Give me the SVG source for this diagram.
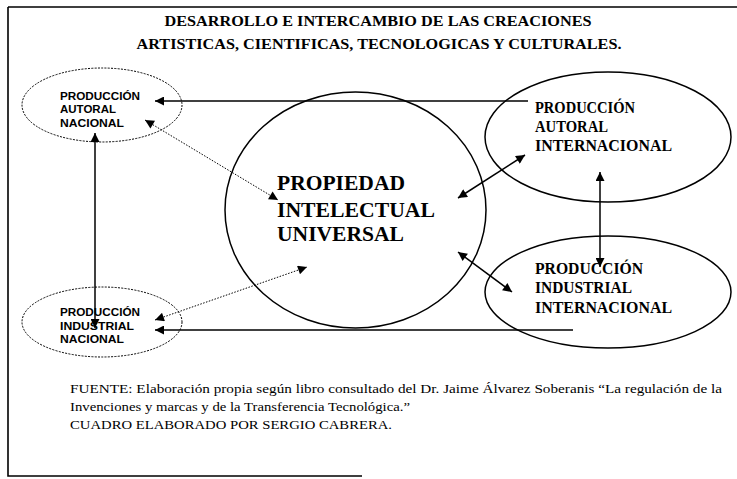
<svg xmlns="http://www.w3.org/2000/svg" width="737" height="479" viewBox="0 0 737 479">
<style>
.frame{stroke:#000;stroke-width:1.6;fill:none}
.dotell{fill:none;stroke:#000;stroke-width:1;stroke-dasharray:2 1.3}
.ell{fill:none;stroke:#000;stroke-width:1.5}
.ln{stroke:#000;stroke-width:1.5;fill:none}
.dl{stroke:#000;stroke-width:1;stroke-dasharray:1.5 1.5;fill:none}
.title{font-family:"Liberation Serif",serif;font-size:15px;font-weight:bold;text-anchor:middle}
.small{font-family:"Liberation Sans",sans-serif;font-size:10px;font-weight:bold}
.mid{font-family:"Liberation Serif",serif;font-size:16px;font-weight:bold}
.big{font-family:"Liberation Serif",serif;font-size:22px;font-weight:bold}
.foot{font-family:"Liberation Serif",serif;font-size:13.5px}
</style>
<defs>
<marker id="ah" viewBox="0 0 10 10" refX="10" refY="5" markerWidth="10" markerHeight="9" markerUnits="userSpaceOnUse" orient="auto-start-reverse">
<path d="M0,0 L10,5 L0,10 z" fill="#000"/>
</marker>
</defs>
<rect width="737" height="479" fill="#fff"/>
<g id="frame">
<path class="frame" d="M8,7 H737 M8,7 V476 H362"/>
</g>
<g id="title">
<text class="title" x="378" y="26" textLength="427" lengthAdjust="spacingAndGlyphs">DESARROLLO E INTERCAMBIO DE LAS CREACIONES</text>
<text class="title" x="379" y="49" textLength="485" lengthAdjust="spacingAndGlyphs">ARTISTICAS, CIENTIFICAS, TECNOLOGICAS Y CULTURALES.</text>
</g>
<g id="connectors">
<line class="ln" x1="528" y1="101" x2="155" y2="101" marker-end="url(#ah)"/>
<line class="ln" x1="573" y1="330" x2="155" y2="330" marker-end="url(#ah)"/>
<line class="ln" x1="95" y1="133" x2="95" y2="328" marker-start="url(#ah)" marker-end="url(#ah)"/>
<line class="dl" x1="145" y1="120" x2="278" y2="200" marker-start="url(#ah)" marker-end="url(#ah)"/>
<line class="dl" x1="155" y1="320" x2="307" y2="267" marker-start="url(#ah)" marker-end="url(#ah)"/>
<line class="ln" x1="458" y1="198" x2="525" y2="155" marker-start="url(#ah)" marker-end="url(#ah)"/>
<line class="ln" x1="458" y1="252" x2="512" y2="292" marker-start="url(#ah)" marker-end="url(#ah)"/>
<line class="ln" x1="600" y1="172" x2="600" y2="267" marker-start="url(#ah)" marker-end="url(#ah)"/>
</g>
<g id="autoral-nacional">
<ellipse class="dotell" cx="102" cy="105" rx="80" ry="37"/>
<text class="small" x="60" y="99.5" textLength="80" lengthAdjust="spacingAndGlyphs">PRODUCCIÓN</text>
<text class="small" x="60" y="113" textLength="56" lengthAdjust="spacingAndGlyphs">AUTORAL</text>
<text class="small" x="60" y="127" textLength="64" lengthAdjust="spacingAndGlyphs">NACIONAL</text>
</g>
<g id="industrial-nacional">
<ellipse class="dotell" cx="102" cy="322" rx="80" ry="35"/>
<text class="small" x="60" y="316" textLength="80" lengthAdjust="spacingAndGlyphs">PRODUCCIÓN</text>
<text class="small" x="60" y="329.5" textLength="74" lengthAdjust="spacingAndGlyphs">INDUSTRIAL</text>
<text class="small" x="60" y="343" textLength="64" lengthAdjust="spacingAndGlyphs">NACIONAL</text>
</g>
<g id="propiedad">
<ellipse class="ell" cx="355.5" cy="210" rx="130.5" ry="118"/>
<text class="big" x="277" y="190" textLength="128" lengthAdjust="spacingAndGlyphs">PROPIEDAD</text>
<text class="big" x="277" y="217" textLength="158" lengthAdjust="spacingAndGlyphs">INTELECTUAL</text>
<text class="big" x="277" y="241" textLength="127" lengthAdjust="spacingAndGlyphs">UNIVERSAL</text>
</g>
<g id="autoral-internacional">
<ellipse class="ell" cx="608" cy="137" rx="123" ry="65"/>
<text class="mid" x="535" y="113" textLength="100" lengthAdjust="spacingAndGlyphs">PRODUCCIÓN</text>
<text class="mid" x="535" y="132" textLength="73" lengthAdjust="spacingAndGlyphs">AUTORAL</text>
<text class="mid" x="535" y="151" textLength="137" lengthAdjust="spacingAndGlyphs">INTERNACIONAL</text>
</g>
<g id="industrial-internacional">
<ellipse class="ell" cx="608" cy="292" rx="123" ry="56"/>
<text class="mid" x="535" y="274" textLength="108" lengthAdjust="spacingAndGlyphs">PRODUCCIÓN</text>
<text class="mid" x="535" y="293" textLength="97" lengthAdjust="spacingAndGlyphs">INDUSTRIAL</text>
<text class="mid" x="535" y="313" textLength="137" lengthAdjust="spacingAndGlyphs">INTERNACIONAL</text>
</g>
<g id="footer">
<text class="foot" x="70" y="393" textLength="652" lengthAdjust="spacingAndGlyphs">FUENTE: Elaboración propia según libro consultado del Dr. Jaime Álvarez Soberanis “La regulación de la</text>
<text class="foot" x="70" y="411" textLength="340" lengthAdjust="spacingAndGlyphs">Invenciones y marcas y de la Transferencia Tecnológica.”</text>
<text class="foot" x="70" y="429" textLength="322" lengthAdjust="spacingAndGlyphs">CUADRO ELABORADO POR SERGIO CABRERA.</text>
</g>
</svg>
